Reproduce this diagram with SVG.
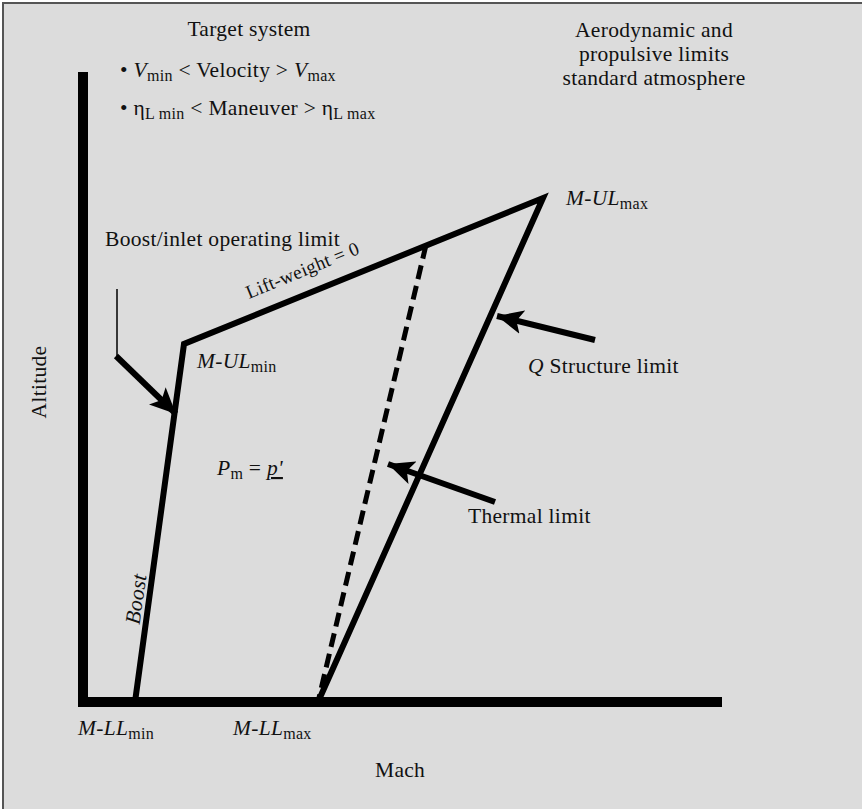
<svg xmlns="http://www.w3.org/2000/svg" width="862" height="809" viewBox="0 0 862 809">
  <style>
    text { font-family: "Liberation Serif", "Times New Roman", serif; font-size: 21.5px; letter-spacing: 0.3px; fill: #111; }
    .it { font-style: italic; }
    .sub { font-size: 16px; font-style: normal; }
    .axis { stroke: #000; stroke-width: 10; fill: none; }
    .bound { stroke: #000; stroke-width: 6; fill: none; stroke-linejoin: miter; }
    .dash { stroke: #000; stroke-width: 5; fill: none; stroke-dasharray: 14 7; }
    .ptr { stroke: #000; stroke-width: 6; fill: none; }
    .thin { stroke: #000; stroke-width: 1.5; fill: none; }
  </style>
  <defs>
    <marker id="head" markerUnits="userSpaceOnUse" markerWidth="28" markerHeight="24" refX="26" refY="12" orient="auto">
      <path d="M0,0 L26,12 L0,24 L6,12 Z" fill="#000"/>
    </marker>
  </defs>

  <!-- frame -->
  <rect x="3" y="3" width="900" height="900" fill="#dcdcdc" stroke="#555" stroke-width="2"/>

  <!-- axes -->
  <g id="axes">
    <polyline class="axis" points="83,72 83,702 722,702"/>
    <text transform="translate(46,382) rotate(-90)" text-anchor="middle">Altitude</text>
    <text x="375" y="777">Mach</text>
  </g>

  <!-- header texts -->
  <g id="target-system">
    <text x="249" y="36" text-anchor="middle">Target system</text>
    <text x="120" y="77">• <tspan class="it">V</tspan><tspan class="sub" dy="4">min</tspan><tspan dy="-4"> &lt; Velocity &gt; </tspan><tspan class="it">V</tspan><tspan class="sub" dy="4">max</tspan></text>
    <text x="120" y="115">• η<tspan class="sub it" dy="4">L</tspan><tspan class="sub"> min</tspan><tspan dy="-4"> &lt; Maneuver &gt; η</tspan><tspan class="sub it" dy="4">L</tspan><tspan class="sub"> max</tspan></text>
  </g>
  <g id="limits-note">
    <text x="654" y="37" text-anchor="middle">Aerodynamic and</text>
    <text x="654" y="61" text-anchor="middle">propulsive limits</text>
    <text x="654" y="85" text-anchor="middle">standard atmosphere</text>
  </g>

  <!-- operating envelope -->
  <g id="envelope">
    <polyline class="bound" points="135,702 184,344 543,198 318,702"/>
    <line class="dash" x1="426" y1="245" x2="318" y2="702"/>
  </g>

  <!-- connectors / pointers -->
  <g id="connectors">
    <polyline class="thin" points="117,289 117,356"/>
    <line class="ptr" x1="116" y1="356" x2="176" y2="414" marker-end="url(#head)"/>
    <line class="ptr" x1="595" y1="340" x2="497" y2="316" marker-end="url(#head)"/>
    <line class="ptr" x1="495" y1="502" x2="388" y2="464" marker-end="url(#head)"/>
  </g>

  <!-- labels -->
  <g id="boost-inlet-label">
    <text x="105" y="246">Boost/inlet operating limit</text>
  </g>
  <g id="lift-weight-label">
    <text transform="translate(249,299) rotate(-22.3)" style="font-size:19px" letter-spacing="0">Lift-weight = 0</text>
  </g>
  <g id="mul-min">
    <text x="197" y="368"><tspan class="it">M-UL</tspan><tspan class="sub" dy="4">min</tspan></text>
  </g>
  <g id="mul-max">
    <text x="566" y="205"><tspan class="it">M-UL</tspan><tspan class="sub" dy="4">max</tspan></text>
  </g>
  <g id="q-structure-label">
    <text x="528" y="373"><tspan class="it">Q</tspan> Structure limit</text>
  </g>
  <g id="thermal-label">
    <text x="468" y="523">Thermal limit</text>
  </g>
  <g id="pm-label">
    <text x="217" y="475"><tspan class="it">P</tspan><tspan class="sub it" dy="4">m</tspan><tspan dy="-4"> = </tspan><tspan class="it" text-decoration="underline">p'</tspan></text>
  </g>
  <g id="boost-label">
    <text class="it" transform="translate(143,600) rotate(-81.9)" text-anchor="middle">Boost</text>
  </g>
  <g id="mll-min">
    <text x="78" y="735"><tspan class="it">M-LL</tspan><tspan class="sub" dy="4">min</tspan></text>
  </g>
  <g id="mll-max">
    <text x="233" y="735"><tspan class="it">M-LL</tspan><tspan class="sub" dy="4">max</tspan></text>
  </g>
</svg>
